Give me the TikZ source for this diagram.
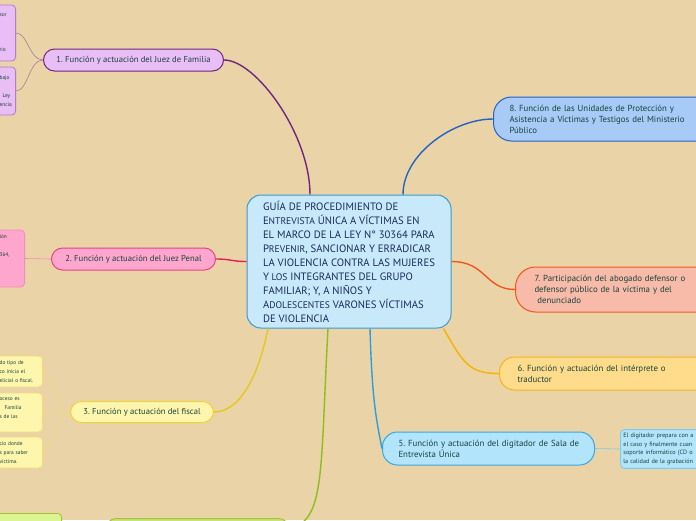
\documentclass[tikz,border=0pt]{standalone}
\usepackage{fontspec}
\setmainfont{PT Sans}
\frenchspacing
\usetikzlibrary{positioning}
\definecolor{MMBack}{HTML}{E9D3A7}
\definecolor{MMText}{HTML}{17443A}
\definecolor{MMHub}{HTML}{C7E9FA}
\definecolor{MMHubLine}{HTML}{3E9ACE}
\definecolor{MMHubText}{HTML}{1B2B5B}
\definecolor{MMPurple}{HTML}{6E2780}
\definecolor{MMPurpleFill}{HTML}{E9BDF5}
\definecolor{MMPurpleTwig}{HTML}{A77C98}
\definecolor{MMPurpleLeaf}{HTML}{B27EC2}
\definecolor{MMPink}{HTML}{E2205C}
\definecolor{MMPinkLine}{HTML}{E8457F}
\definecolor{MMPinkFill}{HTML}{FFA6CF}
\definecolor{MMPinkLeaf}{HTML}{F28DB7}
\definecolor{MMYellow}{HTML}{E5C91A}
\definecolor{MMYellowLine}{HTML}{EFD33A}
\definecolor{MMYellowFill}{HTML}{FFF6AE}
\definecolor{MMYellowLeaf}{HTML}{F2DC78}
\definecolor{MMGreen}{HTML}{8CBF1E}
\definecolor{MMGreenLine}{HTML}{A5C23C}
\definecolor{MMGreenFill}{HTML}{C9E27A}
\definecolor{MMGreenLeaf}{HTML}{DDF590}
\definecolor{MMSky}{HTML}{2AA0E0}
\definecolor{MMSkyLine}{HTML}{3CA7DE}
\definecolor{MMSkyFill}{HTML}{B2E4FB}
\definecolor{MMSkyLeaf}{HTML}{7CCBEF}
\definecolor{MMAmber}{HTML}{F5B400}
\definecolor{MMAmberLine}{HTML}{F5B51E}
\definecolor{MMAmberFill}{HTML}{FFDC8C}
\definecolor{MMCoral}{HTML}{F2561D}
\definecolor{MMCoralFill}{HTML}{F8BBA9}
\definecolor{MMBlue}{HTML}{2463C6}
\definecolor{MMBlueFill}{HTML}{A7CAF7}
\newcommand\capfirst[2]{#1{\fontsize{9.6}{14}\selectfont #2}}
\tikzset{
  branch/.style={line width=1.4pt},
  twig/.style={line width=.6pt},
  hub/.style={draw=MMHubLine,line width=1pt,fill=MMHub,rounded corners=14pt,
               text=MMHubText,font=\fontsize{10.7}{14}\selectfont,align=left,
               minimum width=204pt,minimum height=133pt},
  topic/.style={line width=1pt,rounded corners=11pt,text=MMText,
                font=\fontsize{8.6}{11}\selectfont,minimum height=22pt,anchor=west},
  topicwide/.style={topic,align=left,inner xsep=18pt,font=\fontsize{8.8}{11}\selectfont},
  topicpurple/.style={topic,draw=MMPurple,fill=MMPurpleFill},
  topicpink/.style={topic,draw=MMPinkLine,fill=MMPinkFill},
  topicyellow/.style={topic,draw=MMYellowLine,fill=MMYellowFill},
  topicgreen/.style={topic,draw=MMGreenLine,fill=MMGreenFill},
  leaf/.style={line width=.8pt,rounded corners=4pt,text=MMText,
               font=\fontsize{5.4}{8.8}\selectfont,inner xsep=3pt,align=left},
  leafleft/.style={leaf,anchor=east},
}

\begin{document}
\begin{tikzpicture}[x=1pt,y=-1pt]
  \fill[MMBack] (0,0) rectangle (696,520);
  \useasboundingbox (0,0) rectangle (696,520);
  \clip (0,0) rectangle (696,520);

  % centre
  \node[hub] (guia) at (349,261.5)
    {GUÍA DE PROCEDIMIENTO DE\\
     \capfirst{E}{NTREVISTA} ÚNICA A VÍCTIMAS EN\\
     EL MARCO DE LA LEY N° 30364 PARA\\
     \capfirst{P}{REVENIR}, SANCIONAR Y ERRADICAR\\
     LA VIOLENCIA CONTRA LAS MUJERES\\
     \capfirst{Y}{ LOS} INTEGRANTES DEL GRUPO\\
     FAMILIAR; Y, A NIÑOS Y\\
     \capfirst{A}{DOLESCENTES} VARONES VÍCTIMAS\\
     DE VIOLENCIA};

  % main topics
  \node[topicpurple,minimum width=180pt] (juezfam) at (43,60) {1. Función y actuación del Juez de Familia};
  \node[topicpink,minimum width=164pt] (juezpen) at (51,259) {2. Función y actuación del Juez Penal};
  \node[topicyellow,minimum width=143pt,minimum height=21pt] (fiscal) at (70,412) {3. Función y actuación del fiscal};
  \node[topicgreen,minimum width=184pt,anchor=north west] (cuarto) at (105,518) {};
  \node[topicwide,draw=MMSkyLine,fill=MMSkyFill,rounded corners=15pt,text width=180pt,inner xsep=16pt,minimum height=33pt]
    (digitador) at (382,448.5) {\mbox{5. Función y actuación del digitador de Sala de}\\Entrevista Única};
  \node[topicwide,draw=MMAmberLine,fill=MMAmberFill,rounded corners=15pt,text width=200pt,minimum height=33pt]
    (interprete) at (499,373.5) {6. Función y actuación del intérprete o\\traductor};
  \node[topicwide,draw=MMCoral,fill=MMCoralFill,rounded corners=20pt,text width=200pt,minimum height=45pt,inner xsep=19pt]
    (abogado) at (515,289.5) {7. Participación del abogado defensor o\\defensor público de la víctima y del\\\ denunciado};
  \node[topicwide,draw=MMBlue,fill=MMBlueFill,rounded corners=18pt,text width=200pt,minimum height=44pt,inner xsep=16pt]
    (unidades) at (493,119) {8. Función de las Unidades de Protección y\\Asistencia a Víctimas y Testigos del Ministerio\\Público};

  % leaves (cut by the left edge)
  \node[leafleft,draw=MMPurpleLeaf,fill=MMPurpleFill,text width=13pt,minimum height=56pt] (famA) at (16,33)
    {sor\\\mbox{}\\\mbox{}\\\mbox{}\\rio};
  \node[leafleft,draw=MMPurpleLeaf,fill=MMPurpleFill,text width=13pt,minimum height=48pt] (famB) at (16,91)
    {bajo\\\mbox{}\\\hspace*{3pt}Ley\\encia};
  \node[leafleft,draw=MMPinkLeaf,fill=MMPinkFill,text width=22pt,minimum height=57pt] (penA) at (25,258.5)
    {ión\\\mbox{}\\364,\\\mbox{}\\\mbox{}\\\mbox{}};
  \node[leafleft,draw=MMYellowLeaf,fill=MMYellowFill,text width=40pt,minimum height=31pt] (fisA) at (43,371.5)
    {do tipo de\\co inicia el\\elicial o fiscal.};
  \node[leafleft,draw=MMYellowLeaf,fill=MMYellowFill,text width=40pt,minimum height=39pt] (fisB) at (43,412.5)
    {oceso es\\\hspace*{5pt}Familia\\s de las\\\mbox{}};
  \node[leafleft,draw=MMYellowLeaf,fill=MMYellowFill,text width=40pt,minimum height=31pt] (fisC) at (43,452.5)
    {cio donde\\s para saber\\víctima.};
  \node[leaf,draw=MMGreenLine,fill=MMGreenLeaf,minimum height=30pt,minimum width=90pt,anchor=north east] (cuartoA) at (62,513) {};
  \node[leaf,draw=MMSkyLeaf,fill=MMSkyFill,text width=120pt,minimum height=38pt,anchor=west,
        font=\fontsize{6.2}{8.8}\selectfont] (digA) at (620,449)
    {El digitador prepara con a\\el caso y finalmente cuan\\soporte informático (CD o\\la calidad de la grabación};

  % connectors
  \draw[branch,MMPurple] ([xshift=-39pt]guia.north) .. controls +(0,-60) and +(32,0) .. (juezfam.east);
  \draw[branch,MMBlue] ([xshift=54pt]guia.north) .. controls +(0,-40) and +(-40,0) .. (unidades.west);
  \draw[branch,MMPink] (guia.west) .. controls +(-15,0) and +(15,0) .. (juezpen.east);
  \draw[branch,MMCoral] (guia.east) .. controls +(35,0) and +(-30,0) .. (abogado.west);
  \draw[branch,MMAmber] ([xshift=-8pt]guia.south east) .. controls +(20,35) and +(-30,0) .. (interprete.west);
  \draw[branch,MMSky] ([xshift=21pt]guia.south) .. controls +(2,70) and +(-6,-30) .. (digitador.west);
  \draw[branch,MMYellow] ([xshift=-81pt]guia.south) .. controls +(-10,50) and +(25,0) .. (fiscal.east);
  \draw[branch,MMGreen] ([xshift=-21pt]guia.south) .. controls +(-8,150) and +(35,-12) .. (cuarto.east);

  \draw[twig,MMPurpleTwig] (juezfam.west) .. controls +(-14,0) and +(12,0) .. (famA.east);
  \draw[twig,MMPurpleTwig] (juezfam.west) .. controls +(-14,0) and +(12,0) .. (famB.east);
  \draw[twig,MMPinkLeaf] (juezpen.west) -- (penA.east);
  \draw[twig,MMYellowLeaf] (fiscal.west) .. controls +(-14,0) and +(12,0) .. (fisA.east);
  \draw[twig,MMYellowLeaf] (fiscal.west) -- (fisB.east);
  \draw[twig,MMYellowLeaf] (fiscal.west) .. controls +(-14,0) and +(12,0) .. (fisC.east);
  \draw[twig,MMGreenLine] (cuarto.west) .. controls +(-14,0) and +(12,0) .. (cuartoA.east);
  \draw[twig,MMSkyLeaf] (digitador.east) -- (digA.west);
\end{tikzpicture}
\end{document}
